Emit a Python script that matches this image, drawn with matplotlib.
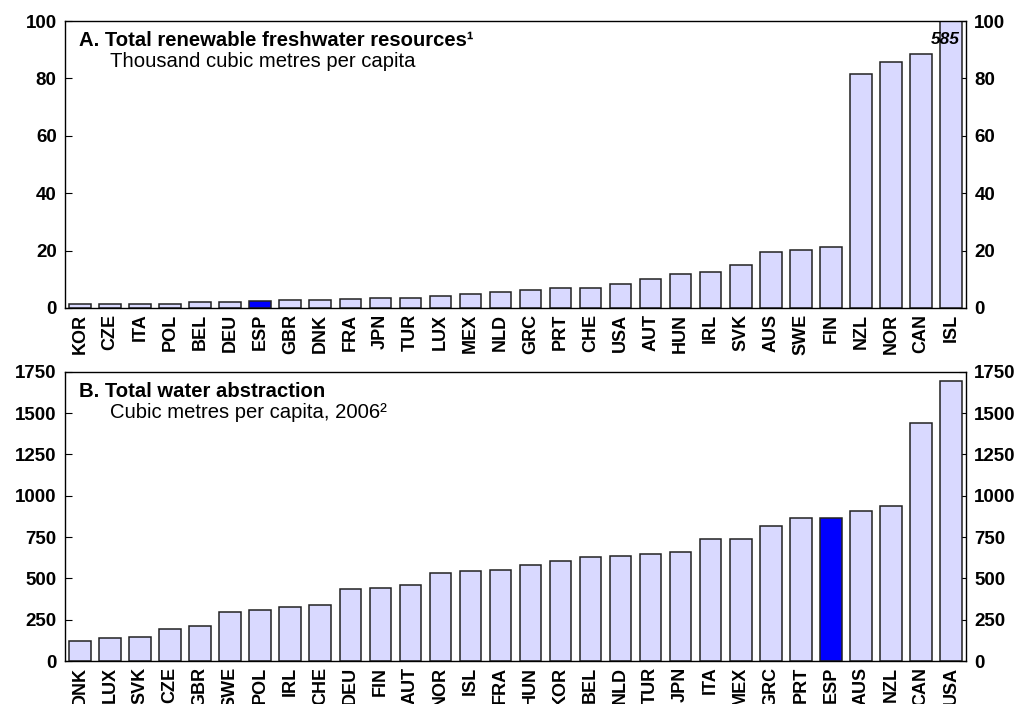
import matplotlib
matplotlib.use("Agg")
import matplotlib.pyplot as plt
import numpy as np

plt.rcParams['font.family'] = ['Liberation Sans', 'DejaVu Sans']
plt.rcParams['font.weight'] = 'bold'

# Panel A: thousand cubic metres per capita
fresh_countries = ["KOR", "CZE", "ITA", "POL", "BEL", "DEU", "ESP", "GBR", "DNK", "FRA",
                   "JPN", "TUR", "LUX", "MEX", "NLD", "GRC", "PRT", "CHE", "USA", "AUT",
                   "HUN", "IRL", "SVK", "AUS", "SWE", "FIN", "NZL", "NOR", "CAN", "ISL"]
fresh_values = [1.5, 1.5, 1.5, 1.5, 2.0, 2.2, 2.5, 2.9, 2.9, 3.1,
                3.4, 3.6, 4.1, 4.8, 5.6, 6.4, 7.1, 7.1, 8.5, 10.2,
                11.7, 12.4, 14.9, 19.4, 20.2, 21.2, 81.6, 85.9, 88.6, 585]

# Panel B: cubic metres per capita, 2006
abs_countries = ["DNK", "LUX", "SVK", "CZE", "GBR", "SWE", "POL", "IRL", "CHE", "DEU",
                 "FIN", "AUT", "NOR", "ISL", "FRA", "HUN", "KOR", "BEL", "NLD", "TUR",
                 "JPN", "ITA", "MEX", "GRC", "PRT", "ESP", "AUS", "NZL", "CAN", "USA"]
abs_values = [124, 138, 146, 191, 215, 296, 306, 328, 337, 434,
              440, 462, 535, 545, 549, 580, 604, 631, 635, 647,
              657, 736, 740, 819, 864, 868, 906, 939, 1442, 1691]

base_col = "#D9D9FF"
hi_col = "#0000FF"


def draw_panel(ax, names, vals, ymax, yticks, title, subtitle):
    x = np.arange(len(names))
    cols = [hi_col if n == "ESP" else base_col for n in names]
    ax.bar(x, vals, width=0.72, color=cols, edgecolor="#222222", linewidth=1.1, zorder=2)
    ax.set_xlim(-0.5, len(names) - 0.5)
    ax.set_ylim(0, ymax)
    ax.set_xticks(x)
    ax.set_xticklabels(names, rotation=90, fontsize=13, fontweight="bold")
    ax.set_yticks(yticks)
    ax.tick_params(axis="x", length=0, pad=4)
    ax.tick_params(axis="y", direction="in", length=5, labelsize=13.5,
                   left=True, right=True, labelleft=True, labelright=True, pad=6)
    for sp in ax.spines.values():
        sp.set_linewidth(1.0)
    ax.text(0.016, 0.932, title, transform=ax.transAxes, fontsize=14.6,
            fontweight="bold", va="center", ha="left")
    ax.text(0.05, 0.86, subtitle, transform=ax.transAxes, fontsize=14.6,
            fontweight="normal", va="center", ha="left")


fig = plt.figure(figsize=(10.32, 7.04), dpi=100)
ax1 = fig.add_axes([0.063, 0.5625, 0.873, 0.4075])
ax2 = fig.add_axes([0.063, 0.061, 0.873, 0.411])

draw_panel(ax1, fresh_countries, fresh_values, 100, [0, 20, 40, 60, 80, 100],
           "A. Total renewable freshwater resources¹", "Thousand cubic metres per capita")
draw_panel(ax2, abs_countries, abs_values, 1750, [0, 250, 500, 750, 1000, 1250, 1500, 1750],
           "B. Total water abstraction", "Cubic metres per capita, 2006²")

# clipped value label for ISL
ax1.text(len(fresh_countries) - 1 + 0.3, 93.5, "{:d}".format(fresh_values[-1]),
         fontsize=12.5, fontstyle="italic", fontweight="bold", ha="right", va="center", zorder=3)

fig.savefig("out.png", dpi=100)
